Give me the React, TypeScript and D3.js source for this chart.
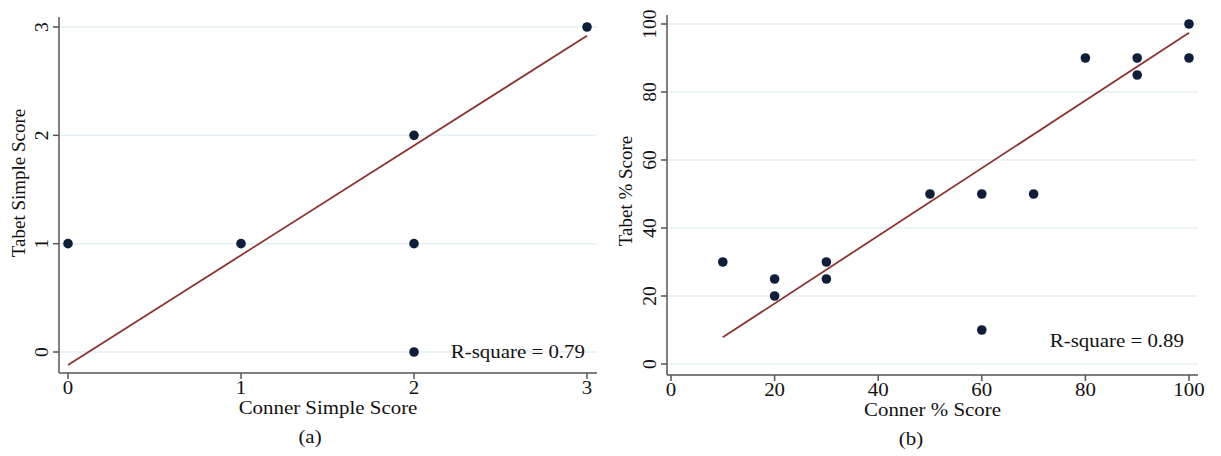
import * as d3 from 'd3';

// panel (a)
const simpleTicks = [0, 1, 2, 3];
const simpleConner = [0, 1, 2, 2, 2, 3];
const simpleTabet = [1, 1, 2, 1, 0, 3];
const simpleFit = [-0.12, 1.013]; // intercept, slope
const simpleFitRange = [0, 3];
const simpleR2 = 'R-square = 0.79';

// panel (b)
const pctTicks = [0, 20, 40, 60, 80, 100];
const pctConner = [10, 20, 20, 30, 30, 50, 60, 60, 70, 80, 90, 90, 100, 100];
const pctTabet = [30, 25, 20, 30, 25, 50, 50, 10, 50, 90, 90, 85, 100, 90];
const pctFit = [-2.1, 0.995];
const pctFitRange = [10, 100];
const pctR2 = 'R-square = 0.89';

const FONT = '"Liberation Serif", "Times New Roman", serif';
const GRID = '#e6eff3';
const AXIS = '#555555';
const DOT = '#0f1f3a';
const FIT = '#8b3434';
const INK = '#111';
const STRETCH = 1.1; // source image is a bit wider than tall

function HText({ x, y, size, anchor, children }: { x: number; y: number; size: number; anchor: string; children: any }) {
  return (
    <text
      transform={`translate(${x},${y}) scale(${STRETCH},1)`}
      textAnchor={anchor}
      fontFamily={FONT}
      fontSize={size}
      fill={INK}
    >
      {children}
    </text>
  );
}

type PanelProps = {
  xTicks: number[];
  yTicks: number[];
  xs: number[];
  ys: number[];
  fit: number[];
  fitRange: number[];
  r2: string;
  r2Pos: [number, number];
  xDomain: [number, number];
  yDomain: [number, number];
  box: { left: number; right: number; top: number; bottom: number };
  xRange: [number, number];
  yRange: [number, number];
  xLabel: string;
  yLabel: string;
  yLabelX: number;
  yLabelY: number;
  caption: string;
  captionX: number;
};

function Panel(p: PanelProps) {
  const x = d3.scaleLinear().domain(p.xDomain).range(p.xRange);
  const y = d3.scaleLinear().domain(p.yDomain).range(p.yRange);
  const line = d3
    .line<number>()
    .x(d => x(d))
    .y(d => y(p.fit[0] + p.fit[1] * d));
  const { left, right, top, bottom } = p.box;
  const midX = (left + right) / 2;

  return (
    <g>
      {p.yTicks.map(t => (
        <line key={'g' + t} x1={left} x2={right} y1={y(t)} y2={y(t)} stroke={GRID} strokeWidth={1.5} />
      ))}
      <path d={line(p.fitRange) || ''} stroke={FIT} strokeWidth={1.8} fill="none" />
      {p.xs.map((v, i) => (
        <circle key={'p' + i} cx={x(v)} cy={y(p.ys[i])} r={4.8} fill={DOT} />
      ))}
      {/* axes */}
      <line x1={left} x2={left} y1={top} y2={bottom} stroke={AXIS} strokeWidth={1.5} />
      <line x1={left} x2={right} y1={bottom} y2={bottom} stroke={AXIS} strokeWidth={1.5} />
      {p.yTicks.map(t => (
        <g key={'yt' + t}>
          <line x1={left - 6} x2={left} y1={y(t)} y2={y(t)} stroke={AXIS} strokeWidth={1.5} />
          <text
            transform={`translate(${left - 11},${y(t)}) rotate(-90)`}
            textAnchor="middle"
            fontFamily={FONT}
            fontSize={19.5}
            fill={INK}
          >
            {t}
          </text>
        </g>
      ))}
      {p.xTicks.map(t => (
        <g key={'xt' + t}>
          <line x1={x(t)} x2={x(t)} y1={bottom} y2={bottom + 6} stroke={AXIS} strokeWidth={1.5} />
          <HText x={x(t)} y={bottom + 21} size={19} anchor="middle">
            {t}
          </HText>
        </g>
      ))}
      <HText x={p.r2Pos[0]} y={p.r2Pos[1]} size={19} anchor="end">
        {p.r2}
      </HText>
      <HText x={midX} y={bottom + 41} size={19} anchor="middle">
        {p.xLabel}
      </HText>
      <text
        transform={`translate(${p.yLabelX},${p.yLabelY}) rotate(-90)`}
        textAnchor="middle"
        fontFamily={FONT}
        fontSize={19}
        fill={INK}
      >
        {p.yLabel}
      </text>
      <HText x={p.captionX} y={bottom + 70} size={19} anchor="middle">
        {p.caption}
      </HText>
    </g>
  );
}

export default function App() {
  return (
    <svg width={1221} height={456} style={{ position: 'absolute', left: 0, top: 0, background: '#fff' }}>
      <rect width={1221} height={456} fill="#fff" />
      <Panel
        xTicks={simpleTicks}
        yTicks={simpleTicks}
        xs={simpleConner}
        ys={simpleTabet}
        fit={simpleFit}
        fitRange={simpleFitRange}
        r2={simpleR2}
        r2Pos={[585, 358]}
        xDomain={[0, 3]}
        yDomain={[0, 3]}
        xRange={[68, 587]}
        yRange={[352, 27]}
        box={{ left: 59, right: 597, top: 17, bottom: 373 }}
        xLabel="Conner Simple Score"
        yLabel="Tabet Simple Score"
        yLabelX={25}
        yLabelY={183}
        caption="(a)"
        captionX={310}
      />
      <Panel
        xTicks={pctTicks}
        yTicks={pctTicks}
        xs={pctConner}
        ys={pctTabet}
        fit={pctFit}
        fitRange={pctFitRange}
        r2={pctR2}
        r2Pos={[1184, 347]}
        xDomain={[0, 100]}
        yDomain={[0, 100]}
        xRange={[671, 1189]}
        yRange={[364, 24]}
        box={{ left: 667, right: 1198, top: 15, bottom: 375 }}
        xLabel="Conner % Score"
        yLabel="Tabet % Score"
        yLabelX={632}
        yLabelY={191}
        caption="(b)"
        captionX={911}
      />
    </svg>
  );
}
